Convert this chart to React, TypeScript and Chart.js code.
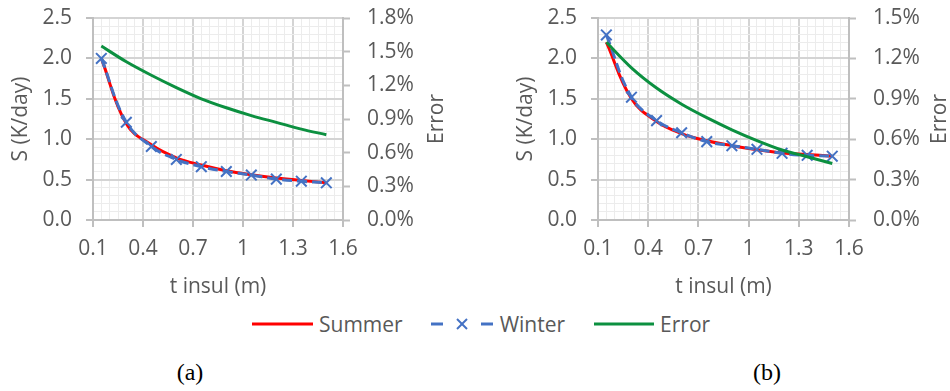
import React, { useEffect, useRef } from 'react';
import { Chart, registerables } from 'chart.js';

Chart.register(...registerables);

// ---------- data ----------
const seriesNames = ['Summer', 'Winter', 'Error'];
const tInsul = [0.15, 0.3, 0.45, 0.6, 0.75, 0.9, 1.05, 1.2, 1.35, 1.5];

const summerA = [2.0, 1.19, 0.93, 0.77, 0.68, 0.61, 0.56, 0.52, 0.49, 0.46];
const winterA = [2.0, 1.21, 0.91, 0.75, 0.66, 0.6, 0.556, 0.506, 0.48, 0.46];
const errorA = [1.55, 1.41, 1.29, 1.18, 1.08, 1.0, 0.93, 0.87, 0.81, 0.76];

const summerB = [2.2, 1.5, 1.22, 1.07, 0.98, 0.92, 0.87, 0.83, 0.81, 0.79];
const winterB = [2.29, 1.52, 1.23, 1.08, 0.97, 0.92, 0.875, 0.825, 0.8, 0.79];
const errorB = [1.32, 1.13, 0.98, 0.86, 0.76, 0.67, 0.59, 0.52, 0.47, 0.42];

const xMin = 0.1;
const xMax = 1.6;
const xMajorStep = 0.3;
const xMinorStep = 0.05;
const sMax = 2.5;
const sMajorStep = 0.5;
const sMinorStep = 0.1;
const errStep = 0.3;
const errMaxA = 1.8;
const errMaxB = 1.5;

// ---------- styles ----------
const FONT = "'Open Sans', 'Noto Sans', sans-serif";
const FS = 21;
const TEXT = '#595959';
const AXIS = '#bfbfbf';
const MAJOR = '#d4d4d4';
const MINOR = '#ececec';
const RED = '#ff0000';
const BLUE = '#4472c4';
const GREEN = '#0c9040';

const isMajor = (v: number, start: number, step: number) => {
  const k = (v - start) / step;
  return Math.abs(k - Math.round(k)) < 1e-6;
};

const makeTicks = (start: number, end: number, step: number) => {
  const out: { value: number }[] = [];
  const n = Math.round((end - start) / step);
  for (let k = 0; k <= n; k++) out.push({ value: Math.round((start + k * step) * 1e6) / 1e6 });
  return out;
};

const noPad = (s: any) => {
  s.paddingTop = 0;
  s.paddingBottom = 0;
  s.paddingLeft = 0;
  s.paddingRight = 0;
};

const errorTitlePlugin = {
  id: 'errorTitle',
  afterDraw(chart: any, _args: any, opts: any) {
    const { ctx, chartArea } = chart;
    ctx.save();
    ctx.translate(chartArea.right + opts.offset, (chartArea.top + chartArea.bottom) / 2);
    ctx.rotate(-Math.PI / 2);
    ctx.font = `${FS}px ${FONT}`;
    ctx.fillStyle = TEXT;
    ctx.textAlign = 'center';
    ctx.textBaseline = 'middle';
    ctx.fillText(opts.text, 0, 0);
    ctx.restore();
  },
};

type PanelProps = {
  summer: number[];
  winter: number[];
  error: number[];
  errMax: number;
  left: number;
  width: number;
  rightW: number;
  errOffset: number;
};

function Panel(p: PanelProps) {
  const ref = useRef<HTMLCanvasElement | null>(null);
  useEffect(() => {
    if (!ref.current) return;
    const pts = (arr: number[]) => tInsul.map((x, i) => ({ x, y: arr[i] }));
    const tickFont = { family: FONT, size: FS };
    const chart = new Chart(ref.current, {
      type: 'line',
      data: {
        datasets: [
          {
            label: seriesNames[2],
            data: pts(p.error),
            yAxisID: 'yErr',
            borderColor: GREEN,
            backgroundColor: GREEN,
            borderWidth: 3,
            pointRadius: 0,
            cubicInterpolationMode: 'monotone',
            order: 0,
          },
          {
            label: seriesNames[1],
            data: pts(p.winter),
            yAxisID: 'y',
            borderColor: BLUE,
            backgroundColor: BLUE,
            borderWidth: 3,
            borderDash: [10, 5],
            pointStyle: 'crossRot',
            pointRadius: 7.5,
            pointBorderWidth: 2,
            pointBorderColor: BLUE,
            tension: 0.4,
            order: 1,
          },
          {
            label: seriesNames[0],
            data: pts(p.summer),
            yAxisID: 'y',
            borderColor: RED,
            backgroundColor: RED,
            borderWidth: 3,
            pointRadius: 0,
            tension: 0.4,
            order: 2,
          },
        ],
      },
      options: {
        animation: false,
        responsive: false,
        maintainAspectRatio: false,
        events: [],
        layout: { autoPadding: false, padding: { top: 18, left: 0, right: 0, bottom: 0 } },
        plugins: {
          legend: { display: false },
          tooltip: { enabled: false },
          errorTitle: { offset: p.errOffset, text: seriesNames[2] },
        } as any,
        scales: {
          x: {
            type: 'linear',
            min: xMin,
            max: xMax,
            afterBuildTicks: (s: any) => {
              s.ticks = makeTicks(xMin, xMax, xMinorStep);
            },
            afterFit: (s: any) => {
              s.height = 80;
              noPad(s);
            },
            ticks: {
              autoSkip: false,
              maxRotation: 0,
              padding: 9,
              color: TEXT,
              font: tickFont,
              callback: (v: any) => (isMajor(v, xMin, xMajorStep) ? String(Number(Number(v).toFixed(2))) : ''),
            },
            grid: {
              color: (c: any) => (c.tick && isMajor(c.tick.value, xMin, xMajorStep) ? MAJOR : MINOR),
              lineWidth: (c: any) => (c.tick && isMajor(c.tick.value, xMin, xMajorStep) ? 2 : 1),
              tickColor: (c: any) => (c.tick && isMajor(c.tick.value, xMin, xMajorStep) ? AXIS : 'rgba(0,0,0,0)'),
              tickLength: 7,
              tickWidth: 2,
            },
            border: { display: true, color: AXIS, width: 2 },
            title: {
              display: true,
              text: 't insul (m)',
              color: TEXT,
              font: { family: FONT, size: FS },
              padding: { top: 0, bottom: 0 },
            },
          },
          y: {
            type: 'linear',
            position: 'left',
            min: 0,
            max: sMax,
            afterBuildTicks: (s: any) => {
              s.ticks = makeTicks(0, sMax, sMinorStep);
            },
            afterFit: (s: any) => {
              s.width = 93;
              noPad(s);
            },
            ticks: {
              autoSkip: false,
              padding: 14,
              color: TEXT,
              font: tickFont,
              callback: (v: any) => (isMajor(v, 0, sMajorStep) ? Number(v).toFixed(1) : ''),
            },
            grid: {
              color: (c: any) => (c.tick && isMajor(c.tick.value, 0, sMajorStep) ? MAJOR : MINOR),
              lineWidth: (c: any) => (c.tick && isMajor(c.tick.value, 0, sMajorStep) ? 2 : 1),
              tickColor: (c: any) => (c.tick && isMajor(c.tick.value, 0, sMajorStep) ? AXIS : 'rgba(0,0,0,0)'),
              tickLength: 7,
              tickWidth: 2,
            },
            border: { display: true, color: AXIS, width: 2 },
            title: {
              display: true,
              text: 'S (K/day)',
              color: TEXT,
              font: { family: FONT, size: FS },
              padding: { top: 8, bottom: 0 },
            },
          },
          yErr: {
            type: 'linear',
            position: 'right',
            min: 0,
            max: p.errMax,
            afterBuildTicks: (s: any) => {
              s.ticks = makeTicks(0, p.errMax, errStep);
            },
            afterFit: (s: any) => {
              s.width = p.rightW;
              noPad(s);
            },
            ticks: {
              autoSkip: false,
              padding: 17,
              color: TEXT,
              font: tickFont,
              callback: (v: any) => Number(v).toFixed(1) + '%',
            },
            grid: {
              drawOnChartArea: false,
              tickColor: AXIS,
              tickLength: 7,
              tickWidth: 2,
            },
            border: { display: true, color: AXIS, width: 2 },
          },
        },
      } as any,
      plugins: [errorTitlePlugin],
    });
    return () => chart.destroy();
  }, []);
  return (
    <canvas
      ref={ref}
      width={p.width}
      height={300}
      style={{ position: 'absolute', left: p.left, top: 0, width: p.width, height: 300 }}
    />
  );
}

function LineSample({ color, width }: { color: string; width: number }) {
  return (
    <svg width={width} height={12} style={{ display: 'block' }}>
      <line x1={0} y1={6} x2={width} y2={6} stroke={color} strokeWidth={3} />
    </svg>
  );
}

function WinterSample() {
  return (
    <svg width={62} height={16} style={{ display: 'block' }}>
      <line x1={0} y1={8} x2={12} y2={8} stroke={BLUE} strokeWidth={3} />
      <line x1={26} y1={3} x2={36} y2={13} stroke={BLUE} strokeWidth={2} />
      <line x1={26} y1={13} x2={36} y2={3} stroke={BLUE} strokeWidth={2} />
      <line x1={50} y1={8} x2={62} y2={8} stroke={BLUE} strokeWidth={3} />
    </svg>
  );
}

export default function App() {
  return (
    <div
      style={{
        position: 'fixed',
        left: 0,
        top: 0,
        width: 950,
        height: 391,
        background: '#ffffff',
        overflow: 'hidden',
      }}
    >
      <Panel summer={summerA} winter={winterA} error={errorA} errMax={errMaxA} left={0} width={475} rightW={132} errOffset={94} />
      <Panel summer={summerB} winter={winterB} error={errorB} errMax={errMaxB} left={505} width={445} rightW={101} errOffset={91} />
      <div
        style={{
          position: 'absolute',
          left: 252,
          top: 310,
          height: 28,
          display: 'flex',
          alignItems: 'center',
          fontFamily: FONT,
          fontSize: FS,
          lineHeight: '28px',
          color: TEXT,
          whiteSpace: 'nowrap',
        }}
      >
        <LineSample color={RED} width={61} />
        <span style={{ marginLeft: 6 }}>{seriesNames[0]}</span>
        <span style={{ marginLeft: 28 }}>
          <WinterSample />
        </span>
        <span style={{ marginLeft: 7 }}>{seriesNames[1]}</span>
        <span style={{ marginLeft: 29 }}>
          <LineSample color={GREEN} width={60} />
        </span>
        <span style={{ marginLeft: 6 }}>{seriesNames[2]}</span>
      </div>
      <div
        style={{
          position: 'absolute',
          left: 160,
          top: 360,
          width: 60,
          textAlign: 'center',
          fontFamily: "'Liberation Serif', 'Times New Roman', serif",
          fontSize: 24,
          lineHeight: '24px',
          color: '#000',
        }}
      >
        (a)
      </div>
      <div
        style={{
          position: 'absolute',
          left: 737,
          top: 360,
          width: 60,
          textAlign: 'center',
          fontFamily: "'Liberation Serif', 'Times New Roman', serif",
          fontSize: 24,
          lineHeight: '24px',
          color: '#000',
        }}
      >
        (b)
      </div>
    </div>
  );
}
